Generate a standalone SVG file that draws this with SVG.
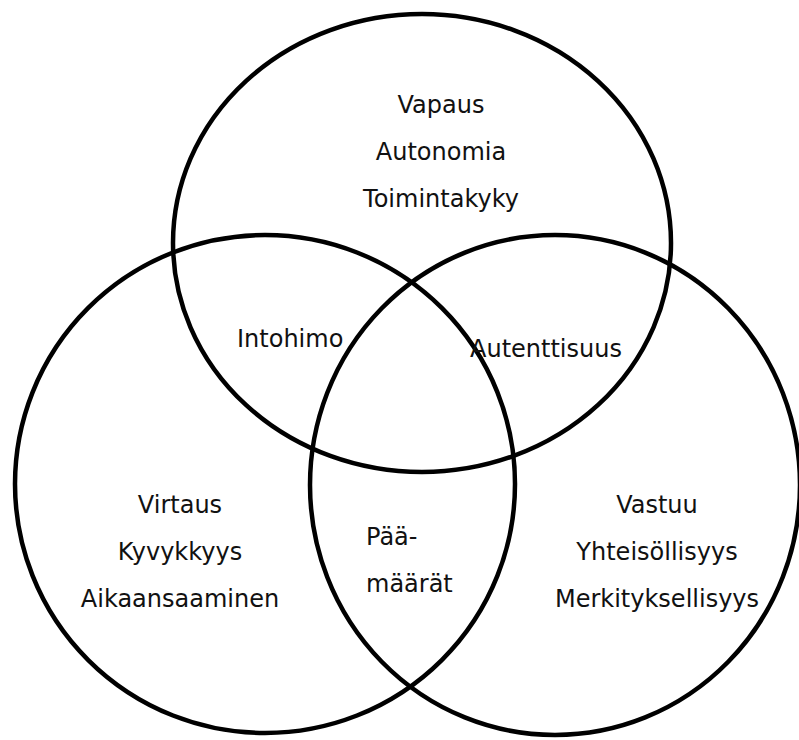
<svg xmlns="http://www.w3.org/2000/svg" width="799" height="740" viewBox="0 0 799 740">
<style>
.c{fill:none;stroke:#000;stroke-width:4.5}
text{font-family:"DejaVu Sans","Liberation Sans",sans-serif;font-size:24px;fill:#111}
.m{text-anchor:middle}
</style>
<rect width="799" height="740" fill="#fff"/>
<g id="connectors"></g>
<g id="top"><ellipse class="c" cx="422" cy="243" rx="249" ry="229"/>
<text class="m" x="441" y="113">Vapaus</text>
<text class="m" x="441" y="160">Autonomia</text>
<text class="m" x="441" y="207">Toimintakyky</text></g>
<g id="left"><ellipse class="c" cx="265" cy="484" rx="250" ry="249"/>
<text class="m" x="180" y="513">Virtaus</text>
<text class="m" x="180" y="560">Kyvykkyys</text>
<text class="m" x="180" y="607">Aikaansaaminen</text></g>
<g id="right"><ellipse class="c" cx="555" cy="485" rx="245" ry="250"/>
<text class="m" x="657" y="513">Vastuu</text>
<text class="m" x="657" y="560">Yhteisöllisyys</text>
<text class="m" x="657" y="607">Merkityksellisyys</text></g>
<g id="intohimo"><text x="237" y="347">Intohimo</text></g>
<g id="autenttisuus"><text x="470" y="357">Autenttisuus</text></g>
<g id="paamaarat"><text x="366" y="545">Pää-</text>
<text x="366" y="592">määrät</text></g>
</svg>
